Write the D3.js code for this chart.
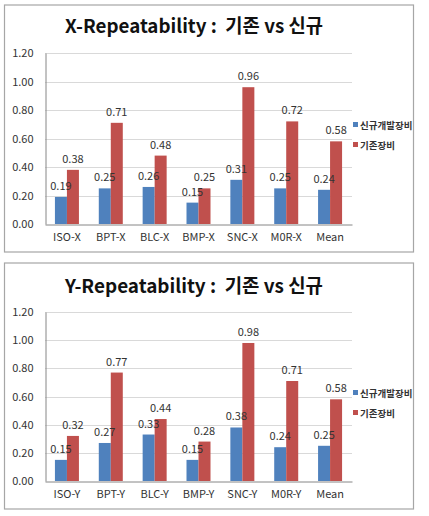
<!DOCTYPE html>
<html>
<head>
<meta charset="utf-8">
<script src="https://cdn.jsdelivr.net/npm/d3@7"></script>
<style>
html,body{margin:0;padding:0;background:#fff;}
svg{display:block;}
text{font-family:"Noto Sans CJK KR","Noto Sans",sans-serif;}
.title{white-space:pre;}
</style>
</head>
<body>
<svg id="chart" width="429" height="516"></svg>
<script>
const seriesNames = ["신규개발장비", "기존장비"];
const seriesColors = ["#4F81BD", "#C0504D"];
const tickValues = [0, 0.2, 0.4, 0.6, 0.8, 1.0, 1.2];
const tickLabels = ["0.00", "0.20", "0.40", "0.60", "0.80", "1.00", "1.20"];

const titleX = "X-Repeatability :  기존 vs 신규";
const categoriesX = ["ISO-X", "BPT-X", "BLC-X", "BMP-X", "SNC-X", "M0R-X", "Mean"];
const newX = [0.19, 0.25, 0.26, 0.15, 0.31, 0.25, 0.24];
const oldX = [0.38, 0.71, 0.48, 0.25, 0.96, 0.72, 0.58];

const titleY = "Y-Repeatability :  기존 vs 신규";
const categoriesY = ["ISO-Y", "BPT-Y", "BLC-Y", "BMP-Y", "SNC-Y", "M0R-Y", "Mean"];
const newY = [0.15, 0.27, 0.33, 0.15, 0.38, 0.24, 0.25];
const oldY = [0.32, 0.77, 0.44, 0.28, 0.98, 0.71, 0.58];

const svg = d3.select("#chart");

function drawChart(cfg) {
  const g = svg.append("g");
  g.append("rect")
    .attr("x", 4.5).attr("y", cfg.boxTop)
    .attr("width", 409).attr("height", cfg.boxBottom - cfg.boxTop)
    .attr("fill", "#fff").attr("stroke", "#A6A6A6").attr("stroke-width", 1.2);

  g.append("text").attr("class", "title")
    .attr("x", 194).attr("y", cfg.titleY)
    .attr("text-anchor", "middle")
    .attr("font-size", 19).attr("font-weight", "bold").attr("fill", "#111")
    .attr("textLength", 258).attr("lengthAdjust", "spacingAndGlyphs")
    .text(cfg.title);

  const x0 = d3.scaleBand().domain(cfg.categories).range([45, 352]).padding(0);
  const x1 = d3.scaleBand().domain(seriesNames)
    .range([x0.bandwidth() / 2 - 12, x0.bandwidth() / 2 + 12]).padding(0);
  const y = d3.scaleLinear().domain([0, 1.2]).range([cfg.plotBottom, cfg.plotTop]);

  g.append("g").selectAll("line").data(tickValues.slice(1)).join("line")
    .attr("x1", 45).attr("x2", 352)
    .attr("y1", d => Math.round(y(d)) + 0.5).attr("y2", d => Math.round(y(d)) + 0.5)
    .attr("stroke", "#D9D9D9").attr("stroke-width", 1);

  const yAxis = d3.axisLeft(y).tickValues(tickValues)
    .tickFormat((d, i) => tickLabels[i]).tickSize(0).tickPadding(12);
  const ya = g.append("g").attr("transform", "translate(45.5,0)").call(yAxis);
  ya.select(".domain").attr("stroke", "#868686");
  ya.selectAll("text").attr("font-size", 11).attr("fill", "#333")
    .style("font-family", "'Noto Sans CJK KR',sans-serif");

  const xAxis = d3.axisBottom(x0).tickSize(0).tickPadding(9);
  const xa = g.append("g").attr("transform", `translate(0,${cfg.plotBottom + 0.5})`).call(xAxis);
  xa.select(".domain").attr("stroke", "#868686");
  xa.selectAll("text").attr("font-size", 11).attr("fill", "#333")
    .style("font-family", "'Noto Sans CJK KR',sans-serif");

  const rows = cfg.categories.map((c, i) => ({cat: c, vals: [cfg.newVals[i], cfg.oldVals[i]]}));
  const groups = g.append("g").selectAll("g").data(rows).join("g")
    .attr("transform", d => `translate(${x0(d.cat)},0)`);
  groups.selectAll("rect").data(d => d.vals.map((v, k) => ({v, k}))).join("rect")
    .attr("x", d => x1(seriesNames[d.k]))
    .attr("width", x1.bandwidth())
    .attr("y", d => y(d.v))
    .attr("height", d => y(0) - y(d.v))
    .attr("fill", d => seriesColors[d.k]);
  groups.selectAll("text.val").data(d => d.vals.map((v, k) => ({v, k}))).join("text")
    .attr("class", "val")
    .attr("x", d => x1(seriesNames[d.k]) + x1.bandwidth() / 2)
    .attr("y", d => y(d.v) - 7)
    .attr("text-anchor", "middle")
    .attr("font-size", 11).attr("fill", "#333")
    .text(d => d.v.toFixed(2));

  const lg = g.append("g").selectAll("g").data(seriesNames).join("g")
    .attr("transform", (d, i) => `translate(353,${cfg.legendY + i * 20})`);
  lg.append("rect").attr("x", 0).attr("y", -3).attr("width", 5).attr("height", 5)
    .attr("fill", (d, i) => seriesColors[i]);
  lg.append("text").attr("x", 7).attr("y", 3.5)
    .attr("font-size", 9.5).attr("font-weight", "bold").attr("fill", "#333")
    .text(d => d);
}

drawChart({
  title: titleX, categories: categoriesX, newVals: newX, oldVals: oldX,
  boxTop: 5, boxBottom: 252, titleY: 33, plotTop: 53, plotBottom: 224, legendY: 125
});
drawChart({
  title: titleY, categories: categoriesY, newVals: newY, oldVals: oldY,
  boxTop: 263, boxBottom: 509, titleY: 293, plotTop: 312, plotBottom: 481, legendY: 393
});
</script>
</body>
</html>
